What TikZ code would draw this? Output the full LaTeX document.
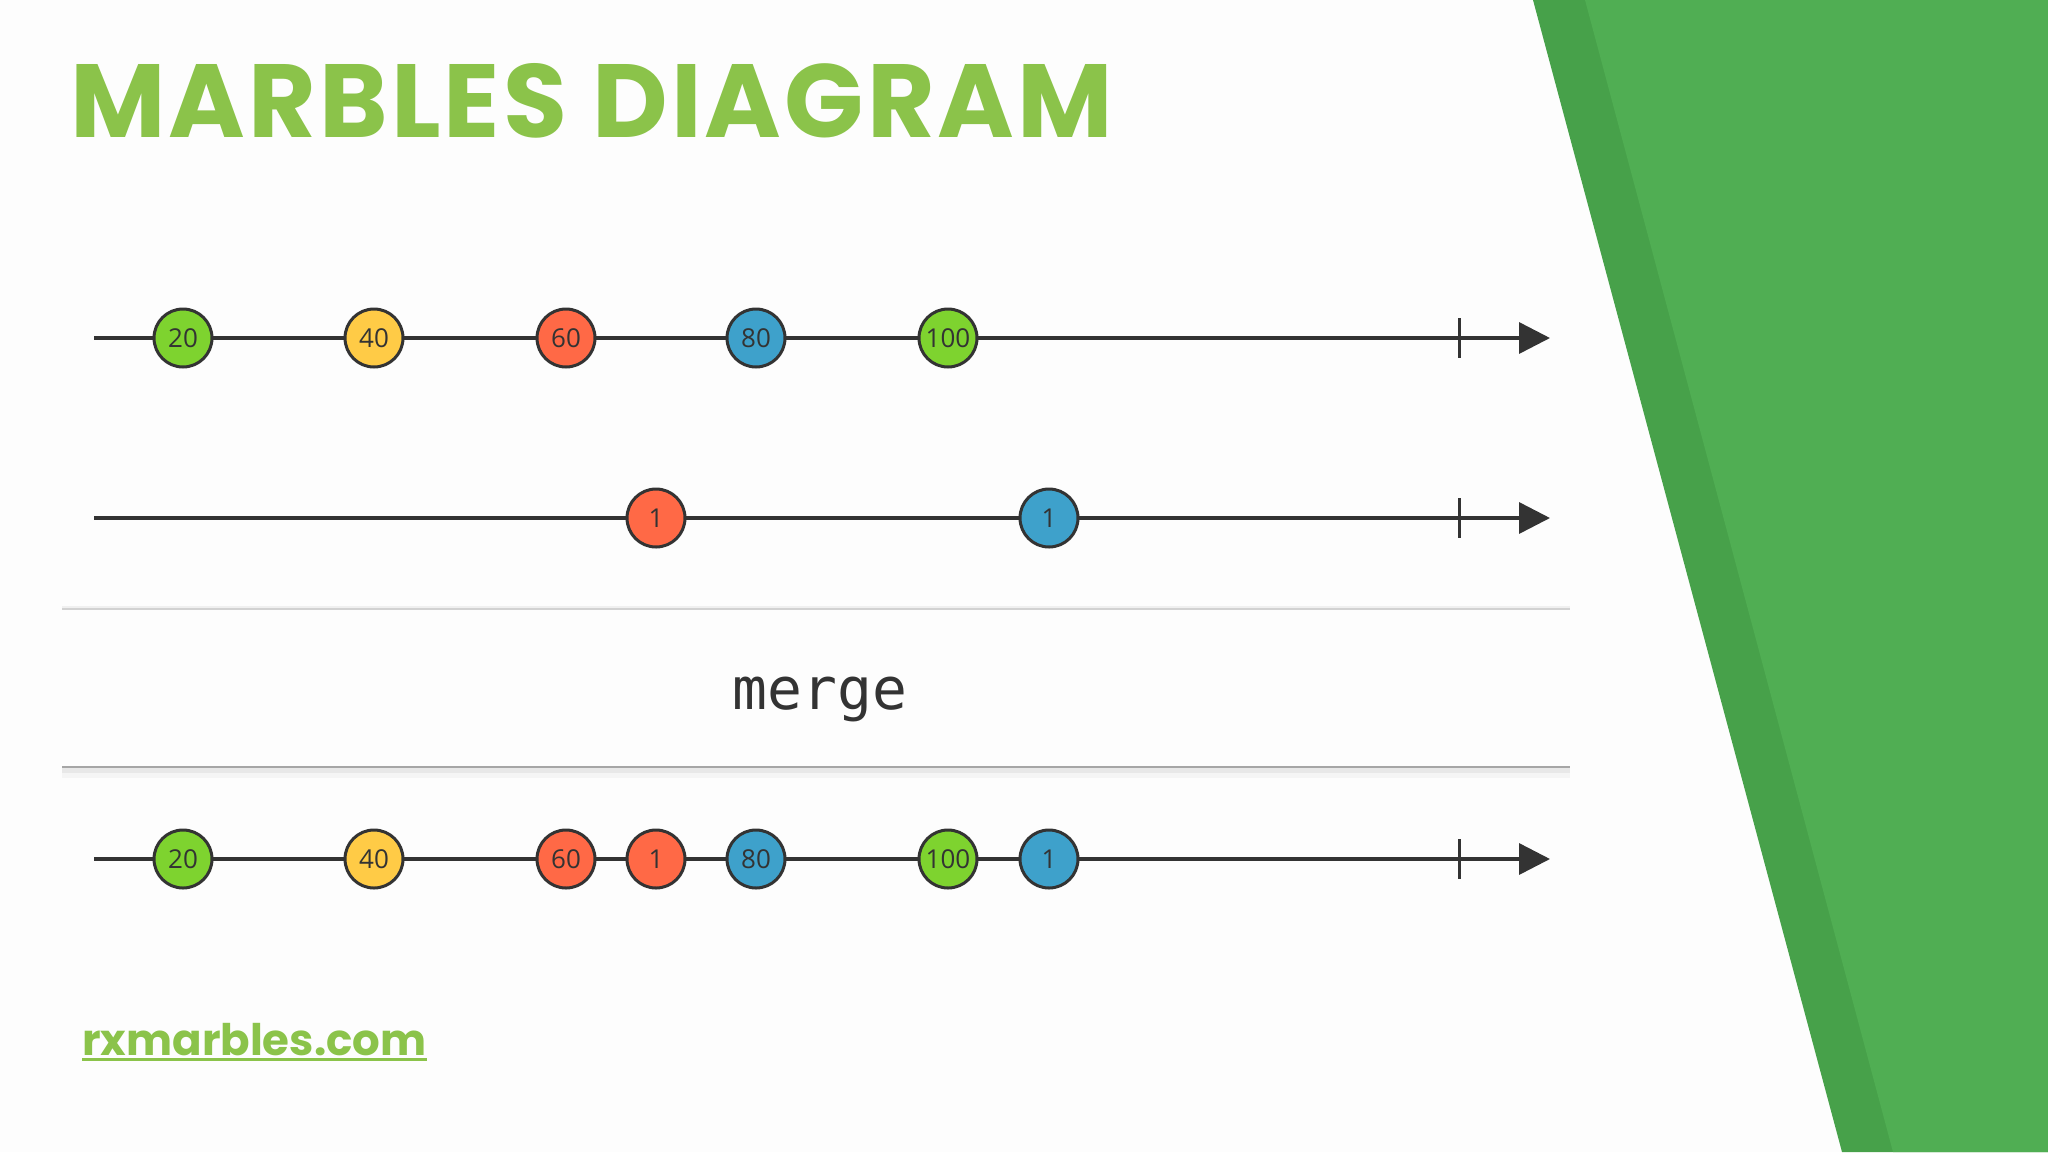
\documentclass[tikz,border=0pt]{standalone}
\usepackage{fontspec}
\setmainfont{Open Sans}
\newfontfamily\titlefont{Poppins}
\newfontfamily\titlespaced{Poppins}[LetterSpace=3]
\newfontfamily\monofont{DejaVu Sans Mono}
\usetikzlibrary{arrows.meta,calc}
\definecolor{bgwhite}{HTML}{FDFDFD}
\definecolor{darkgreen}{HTML}{47A14A}
\definecolor{lightgreen}{HTML}{50AE53}
\definecolor{titlegreen}{HTML}{8BC34A}
\definecolor{axis}{HTML}{333333}
\definecolor{mgreen}{HTML}{7ED32F}
\definecolor{myellow}{HTML}{FFCB46}
\definecolor{mred}{HTML}{FF6946}
\definecolor{mblue}{HTML}{3EA1CB}
\tikzset{
  marble/.style={circle, draw=axis, line width=3pt, minimum size=58pt, inner sep=0pt,
    font=\fontsize{26}{26}\selectfont, text=axis},
  gm/.style={marble, fill=mgreen},
  ym/.style={marble, fill=myellow},
  rm/.style={marble, fill=mred},
  bm/.style={marble, fill=mblue},
  timeline/.style={draw=axis, line width=3.5pt, -{Triangle[length=31pt,width=31pt]}},
  endtick/.style={draw=axis, line width=3pt},
}
\begin{document}
\begin{tikzpicture}[x=1pt,y=-1pt]
\useasboundingbox (0,0) rectangle (2048,1152);
\fill[bgwhite] (0,0) rectangle (2048,1152);
% green stripes
\fill[darkgreen] (1533,0) -- (2048,0) -- (2048,1152) -- (1842,1152) -- cycle;
\fill[lightgreen] (1585,0) -- (2048,0) -- (2048,1152) -- (1893,1152) -- cycle;
% title
\node[anchor=base west, inner sep=0pt, text=titlegreen, font=\titlespaced\bfseries\fontsize{104}{104}\selectfont] (title) at (70,137) {MARBLES DIAGRAM};
% row 1
\coordinate (s1) at (94,338);
\coordinate (e1) at (1550,338);
\coordinate (t1a) at (1459,318);
\coordinate (t1b) at (1459,358);
\draw[timeline] (s1) -- (e1);
\draw[endtick] (t1a) -- (t1b);
\node[gm] (a20) at (183,338) {20};
\node[ym] (a40) at (374,338) {40};
\node[rm] (a60) at (566,338) {60};
\node[bm] (a80) at (756,338) {80};
\node[gm] (a100) at (948,338) {100};
% row 2
\coordinate (s2) at (94,518);
\coordinate (e2) at (1550,518);
\coordinate (t2a) at (1459,498);
\coordinate (t2b) at (1459,538);
\draw[timeline] (s2) -- (e2);
\draw[endtick] (t2a) -- (t2b);
\node[rm] (b1) at (656,518) {1};
\node[bm] (b2) at (1049,518) {1};
% merge box
\fill[gray!12] (62,606) rectangle (1570,609);
\draw[gray!35, line width=1.5pt] (62,609) -- (1570,609);
\fill[gray!8] (62,770) rectangle (1570,778);
\fill[gray!18] (62,768) rectangle (1570,773);
\draw[gray!70, line width=2.5pt] (62,767) -- (1570,767);
\node[font=\monofont\fontsize{58}{58}\selectfont, text=axis] (merge) at (820,699) {merge};
% row 3
\coordinate (s3) at (94,859);
\coordinate (e3) at (1550,859);
\coordinate (t3a) at (1459,839);
\coordinate (t3b) at (1459,879);
\draw[timeline] (s3) -- (e3);
\draw[endtick] (t3a) -- (t3b);
\node[gm] (c20) at (183,859) {20};
\node[ym] (c40) at (374,859) {40};
\node[rm] (c60) at (566,859) {60};
\node[rm] (c1a) at (656,859) {1};
\node[bm] (c80) at (756,859) {80};
\node[gm] (c100) at (948,859) {100};
\node[bm] (c1b) at (1049,859) {1};
% link
\node[anchor=base west, inner sep=0pt, text=titlegreen, font=\titlefont\bfseries\fontsize{43.5}{43.5}\selectfont] (link) at (82,1055) {rxmarbles.com};
\coordinate (u1) at ($(link.base west)+(0,4)$);
\coordinate (u2) at ($(link.base east)+(0,4)$);
\draw[titlegreen, line width=3pt] (u1) -- (u2);
\end{tikzpicture}
\end{document}
